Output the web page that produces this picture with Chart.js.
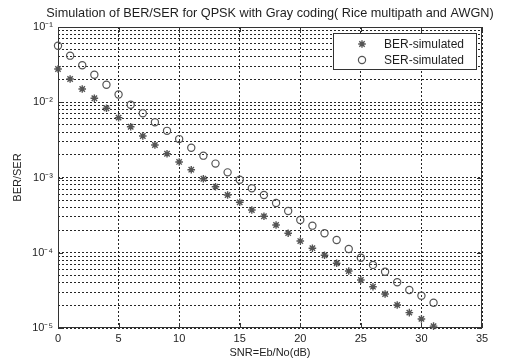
<!DOCTYPE html>
<html>
<head>
<meta charset="utf-8">
<script src="https://cdn.jsdelivr.net/npm/chart.js@4.4.1/dist/chart.umd.min.js"></script>
<style>
  html, body { margin: 0; padding: 0; background: #fff; }
  #wrap { width: 505px; height: 364px; }
</style>
</head>
<body>
<div id="wrap"><canvas id="berChart" width="505" height="364"></canvas></div>
<script>
// ─── Data ───
const snrDb = [0, 1, 2, 3, 4, 5, 6, 7, 8, 9, 10, 11, 12, 13, 14, 15,
  16, 17, 18, 19, 20, 21, 22, 23, 24, 25, 26, 27, 28, 29, 30, 31];

const berSimulated = [
  0.0277, 0.0204, 0.0150, 0.0113, 0.00832, 0.00624, 0.00473, 0.00356,
  0.00270, 0.00207, 0.00161, 0.00127, 0.000964, 0.000755, 0.000585, 0.000468,
  0.000370, 0.000305, 0.000234, 0.000182, 0.000143, 0.000115, 9.25e-5, 7.24e-5,
  5.71e-5, 4.35e-5, 3.54e-5, 2.83e-5, 2.02e-5, 1.60e-5, 1.32e-5, 1.06e-5
];

const serSimulated = [
  0.0564, 0.0416, 0.0310, 0.0232, 0.0171, 0.0127, 0.00927, 0.00713,
  0.00541, 0.00417, 0.00324, 0.00249, 0.00195, 0.00153, 0.00117, 0.000935,
  0.000718, 0.000585, 0.000458, 0.000359, 0.000272, 0.000229, 0.000182, 0.000148,
  0.000112, 8.6e-5, 6.9e-5, 5.6e-5, 4.05e-5, 3.2e-5, 2.69e-5, 2.17e-5
];

const xTickValues = [0, 5, 10, 15, 20, 25, 30, 35];
const yDecadeExps = [-5, -4, -3, -2, -1];
const yDecadeLabels = ['10⁻⁵', '10⁻⁴', '10⁻³', '10⁻²', '10⁻¹'];

const chartTitle = 'Simulation of BER/SER for QPSK with Gray coding( Rice multipath and AWGN)';

const FONT = "'Liberation Sans', Arial, Helvetica, sans-serif";
const INK = '#1e1e1e';
const MARK = '#555555';

const berStyle = { pointStyle: 'star', radius: 3.8, borderWidth: 1.4 };
const serStyle = { pointStyle: 'circle', radius: 3.6, borderWidth: 1.2 };

// frame + inward tick marks, drawn over the grid
const frameTicks = {
  id: 'frameTicks',
  beforeDatasetsDraw(chart) {
    const { ctx, chartArea: a, scales } = chart;
    ctx.save();
    ctx.strokeStyle = '#333';
    ctx.lineWidth = 1;
    ctx.setLineDash([]);
    ctx.strokeRect(a.left + 0.5, a.top + 0.5, a.right - a.left - 1, a.bottom - a.top - 1);
    ctx.beginPath();
    xTickValues.forEach(v => {
      const px = Math.round(scales.x.getPixelForValue(v)) + 0.5;
      ctx.moveTo(px, a.bottom); ctx.lineTo(px, a.bottom - 5);
      ctx.moveTo(px, a.top); ctx.lineTo(px, a.top + 5);
    });
    yDecadeExps.forEach(e => {
      const py = Math.round(scales.y.getPixelForValue(Math.pow(10, e))) + 0.5;
      ctx.moveTo(a.left, py); ctx.lineTo(a.left + 5, py);
      ctx.moveTo(a.right, py); ctx.lineTo(a.right - 5, py);
    });
    ctx.stroke();
    ctx.restore();
  }
};

// title centred over the plot box, like MATLAB does
const plotTitle = {
  id: 'plotTitle',
  afterDraw(chart) {
    const { ctx, chartArea: a } = chart;
    ctx.save();
    ctx.font = '12.7px ' + FONT;
    ctx.fillStyle = INK;
    ctx.textAlign = 'center';
    ctx.textBaseline = 'middle';
    ctx.fillText(chartTitle, (a.left + a.right) / 2, 13);
    ctx.restore();
  }
};

// legend box inside the upper-right corner
const insideLegend = {
  id: 'insideLegend',
  afterDraw(chart) {
    const { ctx, chartArea: a } = chart;
    const boxW = 143, boxH = 36;
    const x0 = a.right - 6 - boxW, y0 = a.top + 6;
    ctx.save();
    ctx.setLineDash([]);
    ctx.fillStyle = '#fff';
    ctx.fillRect(x0, y0, boxW, boxH);
    ctx.strokeStyle = '#333';
    ctx.lineWidth = 1;
    ctx.strokeRect(x0 + 0.5, y0 + 0.5, boxW, boxH);
    ctx.font = '12px ' + FONT;
    ctx.textBaseline = 'middle';
    chart.data.datasets.forEach((ds, i) => {
      const cy = y0 + 11 + i * 16;
      ctx.strokeStyle = MARK;
      ctx.fillStyle = ds.backgroundColor;
      ctx.lineWidth = ds.pointBorderWidth;
      Chart.helpers.drawPoint(ctx, {
        pointStyle: ds.pointStyle, radius: ds.pointRadius,
        borderWidth: ds.pointBorderWidth, rotation: 0
      }, x0 + 29, cy);
      ctx.fillStyle = INK;
      ctx.fillText(ds.label, x0 + 51, cy + 0.5);
    });
    ctx.restore();
  }
};

new Chart(document.getElementById('berChart'), {
  type: 'scatter',
  data: {
    datasets: [
      {
        label: 'BER-simulated',
        data: snrDb.map((x, i) => ({ x, y: berSimulated[i] })),
        pointStyle: berStyle.pointStyle,
        pointRadius: berStyle.radius,
        pointBorderWidth: berStyle.borderWidth,
        borderColor: MARK,
        backgroundColor: MARK,
        showLine: false,
        clip: false,
      },
      {
        label: 'SER-simulated',
        data: snrDb.map((x, i) => ({ x, y: serSimulated[i] })),
        pointStyle: serStyle.pointStyle,
        pointRadius: serStyle.radius,
        pointBorderWidth: serStyle.borderWidth,
        borderColor: MARK,
        backgroundColor: 'rgba(0,0,0,0)',
        showLine: false,
        clip: false,
      }
    ]
  },
  options: {
    responsive: false,
    animation: false,
    layout: { padding: { left: 0, right: 23, top: 27, bottom: 0 } },
    scales: {
      x: {
        type: 'linear',
        min: 0,
        max: 35,
        afterFit: s => { s.height = 36; },
        afterBuildTicks: s => { s.ticks = xTickValues.map(v => ({ value: v })); },
        grid: { color: 'rgba(0,0,0,0.85)', borderDash: [2, 2], drawTicks: false },
        border: { display: false, dash: [2, 2] },
        ticks: { padding: 4, color: INK, font: { family: FONT, size: 11 }, autoSkip: false, maxRotation: 0 },
        title: {
          display: true, text: 'SNR=Eb/No(dB)', color: INK,
          font: { family: FONT, size: 11 }, padding: { top: 0, bottom: 4 }
        }
      },
      y: {
        type: 'logarithmic',
        min: 1e-5,
        max: 1e-1,
        afterFit: s => { s.width = 58; },
        afterBuildTicks: s => {
          const t = [];
          yDecadeExps.slice(0, -1).forEach(e => {
            for (let m = 1; m <= 9; m++) t.push({ value: m * Math.pow(10, e) });
          });
          t.push({ value: 0.1 });
          s.ticks = t;
        },
        grid: { color: 'rgba(0,0,0,0.85)', borderDash: [2, 2], drawTicks: false },
        border: { display: false, dash: [2, 2] },
        ticks: {
          padding: 5, color: INK, font: { family: FONT, size: 11 }, autoSkip: false,
          callback: v => {
            const e = Math.round(Math.log10(v));
            if (Math.abs(v - Math.pow(10, e)) > Math.pow(10, e) * 1e-6) return '';
            return yDecadeLabels[yDecadeExps.indexOf(e)];
          }
        },
        title: {
          display: true, text: 'BER/SER', color: INK,
          font: { family: FONT, size: 11 }, padding: { top: 11, bottom: 0 }
        }
      }
    },
    plugins: {
      legend: { display: false },
      tooltip: { enabled: false },
      title: { display: false }
    }
  },
  plugins: [frameTicks, plotTitle, insideLegend]
});
</script>
</body>
</html>
